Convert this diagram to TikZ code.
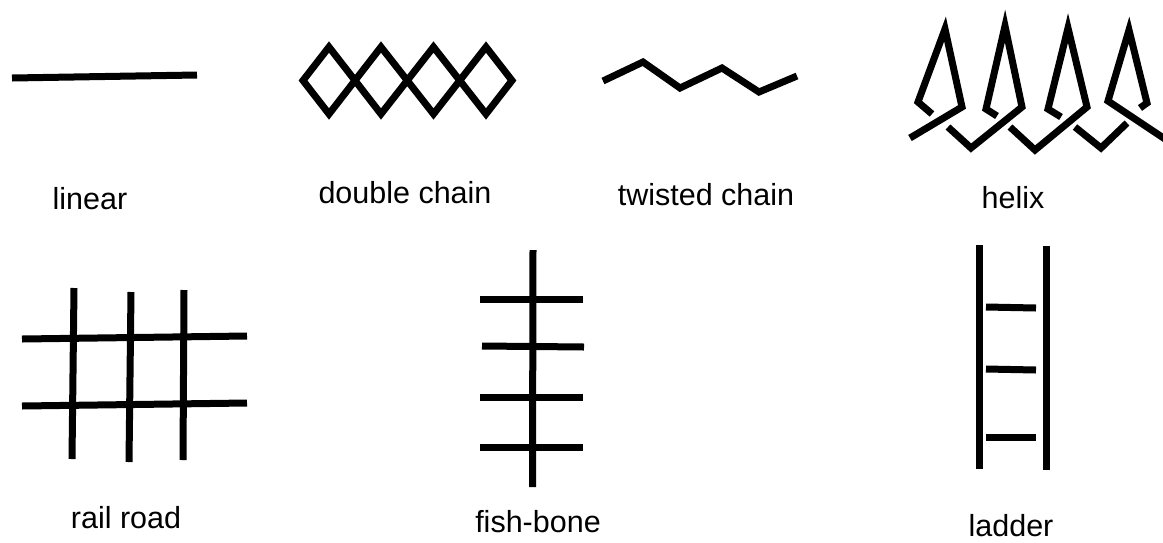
\documentclass[tikz,border=0pt]{standalone}
\usepackage{fontspec}
\setmainfont{Liberation Sans}
\begin{document}
\begin{tikzpicture}[x=1pt,y=-1pt,
  bond/.style={line width=7pt,line cap=butt,line join=miter,miter limit=10},
  lbl/.style={anchor=base,inner sep=0pt,font=\fontsize{30.5}{36}\selectfont}]
\useasboundingbox (0,0) rectangle (1163,542);
% linear
\draw[bond] (12,78) -- (197,75);
\node[lbl] (linear) at (90,209) {linear};
% double chain
\draw[bond] (303,80.5) -- (329,47) -- (381,114) -- (433.5,47) -- (486,114) -- (512,80.5)
  -- (486,47) -- (433.5,114) -- (381,47) -- (329,114) -- cycle;
\node[lbl] (double) at (405,203) {double chain};
% twisted chain
\draw[bond] (603,81) -- (643,62) -- (680,88) -- (722,68) -- (759,92) -- (797,76);
\node[lbl] (twisted) at (706,205) {twisted chain};
% helix
\draw[bond] (910,138) -- (962,107) -- (945,29) -- (918,102) -- (932,114);
\draw[bond] (948,127) -- (971,148) -- (1022,107) -- (1005,26) -- (986,109) -- (997,116);
\draw[bond] (1010,127) -- (1035,150) -- (1087,107) -- (1068,28) -- (1048,109) -- (1061,117);
\draw[bond] (1075,127) -- (1101,148) -- (1127,123);
\draw[bond] (1140,108) -- (1147,103) -- (1129,30) -- (1108,101) -- (1165,139);
\node[lbl] (helix) at (1013,208) {helix};
% rail road
\draw[bond] (22,339) -- (247,336);
\draw[bond] (22,406) -- (247,403);
\draw[bond] (74,288) -- (72,459);
\draw[bond] (131,292) -- (129,462);
\draw[bond] (184,290) -- (183,460);
\node[lbl] (rail) at (126,528) {rail road};
% fish-bone
\draw[bond] (533,250) -- (532.5,487);
\draw[bond] (480,299) -- (583,299);
\draw[bond] (482,346) -- (584,347);
\draw[bond] (480,397) -- (583,397);
\draw[bond] (480,447) -- (583,447);
\node[lbl] (fish) at (538,532) {fish-bone};
% ladder
\draw[bond] (979,245) -- (979,469);
\draw[bond] (1046,246) -- (1046,470);
\draw[bond] (986,307) -- (1036,308);
\draw[bond] (986,369) -- (1036,370);
\draw[bond] (986,437) -- (1036,437);
\node[lbl] (ladder) at (1011,536) {ladder};
\end{tikzpicture}
\end{document}
